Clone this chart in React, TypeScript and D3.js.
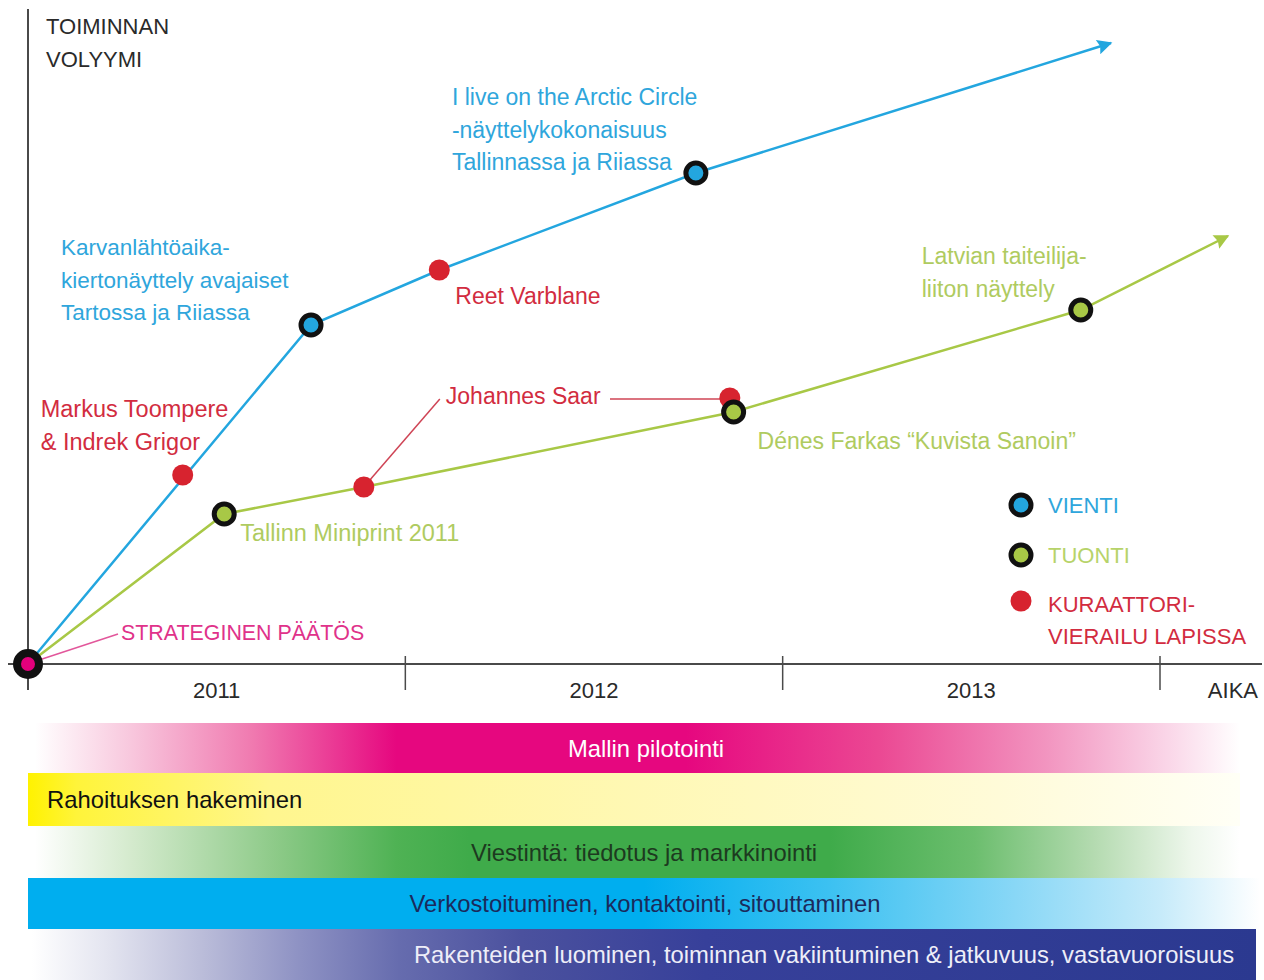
import React from "react";
import * as d3 from "d3";

// --- data ---
const yearBounds = [2011, 2012, 2013, 2014];
const yearLabels = ["2011", "2012", "2013"];

// VIENTI (export) line: time in fractional years, volume in arbitrary units
const vientiT = [2011, 2011.75, 2012.09, 2012.77, 2013.87];
const vientiV = [0, 339, 394, 491, 621];

// TUONTI (import) line
const tuontiT = [2011, 2011.52, 2011.89, 2012.87, 2013.79, 2014.18];
const tuontiV = [0, 150, 177, 252, 354, 428];

const vientiEvents = [
  { id: "karvan", t: 2011.75, v: 339, lines: ["Karvanlähtöaika-", "kiertonäyttely avajaiset", "Tartossa ja Riiassa"] },
  { id: "arctic", t: 2012.77, v: 491, lines: ["I live on the Arctic Circle", "-näyttelykokonaisuus", "Tallinnassa ja Riiassa"] },
];

const tuontiEvents = [
  { id: "miniprint", t: 2011.52, v: 150, lines: ["Tallinn Miniprint 2011"] },
  { id: "farkas", t: 2012.87, v: 252, lines: ["Dénes Farkas “Kuvista Sanoin”"] },
  { id: "latvia", t: 2013.79, v: 354, lines: ["Latvian taiteilija-", "liiton näyttely"] },
];

const visitEvents = [
  { id: "markus", t: 2011.41, v: 189, lines: ["Markus Toompere", "& Indrek Grigor"] },
  { id: "saar1", t: 2011.89, v: 177, lines: ["Johannes Saar"] },
  { id: "reet", t: 2012.09, v: 394, lines: ["Reet Varblane"] },
  { id: "saar2", t: 2012.86, v: 266, lines: [] as string[] },
];

const startEvent = { t: 2011, v: 0, label: "STRATEGINEN PÄÄTÖS" };

const legendItems = [
  { key: "vienti", lines: ["VIENTI"] },
  { key: "tuonti", lines: ["TUONTI"] },
  { key: "visit", lines: ["KURAATTORI-", "VIERAILU LAPISSA"] },
];

const phases = [
  "Mallin pilotointi",
  "Rahoituksen hakeminen",
  "Viestintä: tiedotus ja markkinointi",
  "Verkostoituminen, kontaktointi, sitouttaminen",
  "Rakenteiden luominen, toiminnan vakiintuminen & jatkuvuus, vastavuoroisuus",
];

// --- styles / layout ---
const W = 1264;
const H = 980;
const FONT = "'Liberation Sans', Arial, Helvetica, sans-serif";
const BLUE = "#23a6df";
const GREEN = "#a8c846";
const RED = "#d7232f";
const PINK = "#e4007c";
const AXIS = "#4a4a4a";
const TEXT_BLUE = "#2fa6dc";
const TEXT_GREEN = "#afcb60";
const TEXT_RED = "#d22c40";

const labelLayout: Record<string, { dx: number; dy: number; size?: number; color: string }> = {
  karvan: { dx: -250, dy: -78, size: 22.5, color: TEXT_BLUE },
  arctic: { dx: -244, dy: -76, color: TEXT_BLUE },
  miniprint: { dx: 16, dy: 19, size: 23.5, color: TEXT_GREEN },
  farkas: { dx: 24, dy: 29, color: TEXT_GREEN },
  latvia: { dx: -159, dy: -54, color: TEXT_GREEN },
  markus: { dx: -142, dy: -66, size: 23.5, color: TEXT_RED },
  saar1: { dx: 82, dy: -91, color: TEXT_RED },
  reet: { dx: 16, dy: 26, color: TEXT_RED },
};
const LINE_H = 32.5;

const bandLayout = [
  { x0: 35, x1: 1240, fill: "url(#g0)", color: "#ffffff", anchor: "middle", tx: 646 },
  { x0: 28, x1: 1240, fill: "url(#g1)", color: "#111111", anchor: "start", tx: 47 },
  { x0: 35, x1: 1240, fill: "url(#g2)", color: "#1d3a1f", anchor: "middle", tx: 644 },
  { x0: 28, x1: 1260, fill: "url(#g3)", color: "#1b2a5c", anchor: "middle", tx: 645 },
  { x0: 32, x1: 1256, fill: "url(#g4)", color: "#eeeef8", anchor: "middle", tx: 824 },
];
const bandTops = [723, 773, 826, 878, 929, 980];

const gradients: [number, string][][] = [
  [[0, "#ffffff"], [0.08, "#f8c7dd"], [0.18, "#f07ab0"], [0.3, "#e6077f"], [0.54, "#e6077f"], [0.7, "#eb4893"], [0.84, "#f295c0"], [0.94, "#fad6e8"], [1, "#ffffff"]],
  [[0, "#fff200"], [0.04, "#fff43a"], [0.2, "#fff68e"], [0.5, "#fff8b4"], [0.8, "#fffbd8"], [1, "#fffff6"]],
  [[0, "#ffffff"], [0.08, "#d4eacd"], [0.2, "#8dca88"], [0.3, "#4fb254"], [0.36, "#3fab4a"], [0.66, "#3fab4a"], [0.78, "#6cbe6e"], [0.88, "#b5dbb1"], [0.96, "#eef7ec"], [1, "#ffffff"]],
  [[0, "#00aeef"], [0.5, "#00aeef"], [0.65, "#3cc1f1"], [0.8, "#88d7f6"], [0.92, "#c7ebfa"], [1, "#ffffff"]],
  [[0, "#ffffff"], [0.06, "#e4e5f0"], [0.14, "#babcd9"], [0.22, "#8d91c3"], [0.3, "#666cae"], [0.4, "#4b519e"], [0.55, "#37409a"], [1, "#2b3990"]],
];

export default function App() {
  const x = d3.scaleLinear().domain([2011, 2014]).range([28, 1160]);
  const y = d3.scaleLinear().domain([0, 650]).range([664, 14]);

  const vientiPath = d3
    .line<number>()
    .x((t) => x(t))
    .y((_, i) => y(vientiV[i]))(vientiT);
  const tuontiPath = d3
    .line<number>()
    .x((t) => x(t))
    .y((_, i) => y(tuontiV[i]))(tuontiT);

  const x0 = x(startEvent.t);
  const y0 = y(startEvent.v);
  const saar1 = visitEvents[1];
  const saar2 = visitEvents[3];
  const s1x = x(saar1.t);
  const s1y = y(saar1.v);
  const s2x = x(saar2.t);
  const s2y = y(saar2.v);

  const renderLabel = (id: string, px: number, py: number, lines: string[]) => {
    const l = labelLayout[id];
    if (!l || lines.length === 0) return null;
    return (
      <text
        key={"lab-" + id}
        x={px + l.dx}
        y={py + l.dy}
        fontFamily={FONT}
        fontSize={l.size ?? 23}
        fill={l.color}
        dominantBaseline="central"
      >
        {lines.map((s, i) => (
          <tspan key={i} x={px + l.dx} dy={i === 0 ? 0 : LINE_H}>
            {s}
          </tspan>
        ))}
      </text>
    );
  };

  const legendX = 1021;
  const legendY = [505, 555, 601];

  return (
    <div style={{ position: "absolute", left: 0, top: 0 }}>
      <svg width={W} height={H} style={{ display: "block", background: "#fff" }}>
        <defs>
          {gradients.map((stops, gi) => (
            <linearGradient key={gi} id={"g" + gi} x1="0" x2="1" y1="0" y2="0">
              {stops.map(([o, c], si) => (
                <stop key={si} offset={o} stopColor={c} />
              ))}
            </linearGradient>
          ))}
          <marker id="arrowBlue" viewBox="0 0 10 10" refX="9" refY="5" markerWidth="7.5" markerHeight="6" markerUnits="strokeWidth" orient="auto">
            <path d="M0,0 L10,5 L0,10 L1.5,5 z" fill={BLUE} />
          </marker>
          <marker id="arrowGreen" viewBox="0 0 10 10" refX="9" refY="5" markerWidth="7.5" markerHeight="6" markerUnits="strokeWidth" orient="auto">
            <path d="M0,0 L10,5 L0,10 L1.5,5 z" fill={GREEN} />
          </marker>
        </defs>

        {/* phase bands */}
        {phases.map((p, i) => {
          const b = bandLayout[i];
          const top = bandTops[i];
          const h = bandTops[i + 1] - top;
          return (
            <g key={"band" + i}>
              <rect x={b.x0} y={top} width={b.x1 - b.x0} height={h} fill={b.fill} />
              <text
                x={b.tx}
                y={top + h / 2}
                textAnchor={b.anchor as any}
                dominantBaseline="central"
                fontFamily={FONT}
                fontSize={23.8}
                fill={b.color}
              >
                {p}
              </text>
            </g>
          );
        })}

        {/* axes */}
        <line x1={x(2011)} x2={x(2011)} y1={9} y2={690} stroke={AXIS} strokeWidth={2} />
        <line x1={8} x2={1262} y1={y(0)} y2={y(0)} stroke={AXIS} strokeWidth={2} />
        {yearBounds.slice(1).map((t) => (
          <line key={"tick" + t} x1={x(t)} x2={x(t)} y1={y(0) - 8} y2={y(0) + 26} stroke={AXIS} strokeWidth={1.5} />
        ))}
        {yearLabels.map((s, i) => (
          <text
            key={"yl" + s}
            x={x(yearBounds[i] + 0.5)}
            y={690}
            textAnchor="middle"
            dominantBaseline="central"
            fontFamily={FONT}
            fontSize={22}
            fill="#2a2a2a"
          >
            {s}
          </text>
        ))}
        <text x={1258} y={690} textAnchor="end" dominantBaseline="central" fontFamily={FONT} fontSize={22} fill="#2a2a2a">
          AIKA
        </text>
        <text fontFamily={FONT} fontSize={22} fill="#2a2a2a" dominantBaseline="central">
          <tspan x={46} y={26}>TOIMINNAN</tspan>
          <tspan x={46} y={59}>VOLYYMI</tspan>
        </text>

        {/* leader lines */}
        <line x1={x0 + 2} y1={y0 - 1} x2={x0 + 90} y2={y0 - 30} stroke="#e2579b" strokeWidth={1.5} />
        <line x1={s1x} y1={s1y} x2={s1x + 76} y2={s1y - 88} stroke="#cf4455" strokeWidth={1.5} />
        <line x1={610} y1={s2y + 1} x2={s2x} y2={s2y + 1} stroke="#cf4455" strokeWidth={1.5} />

        {/* series lines */}
        <path d={vientiPath ?? ""} fill="none" stroke={BLUE} strokeWidth={2.5} markerEnd="url(#arrowBlue)" />
        <path d={tuontiPath ?? ""} fill="none" stroke={GREEN} strokeWidth={2.5} markerEnd="url(#arrowGreen)" />

        {/* curator visits */}
        {visitEvents.map((e) => (
          <circle key={"v" + e.id} cx={x(e.t)} cy={y(e.v)} r={10.5} fill={RED} />
        ))}
        {/* milestones */}
        {vientiEvents.map((e) => (
          <circle key={"b" + e.id} cx={x(e.t)} cy={y(e.v)} r={10} fill={BLUE} stroke="#111" strokeWidth={5} />
        ))}
        {tuontiEvents.map((e) => (
          <circle key={"g" + e.id} cx={x(e.t)} cy={y(e.v)} r={10} fill={GREEN} stroke="#111" strokeWidth={5} />
        ))}
        <circle cx={x0} cy={y0} r={11} fill={PINK} stroke="#111" strokeWidth={8} />

        {/* labels */}
        {vientiEvents.map((e) => renderLabel(e.id, x(e.t), y(e.v), e.lines))}
        {tuontiEvents.map((e) => renderLabel(e.id, x(e.t), y(e.v), e.lines))}
        {visitEvents.map((e) => renderLabel(e.id, x(e.t), y(e.v), e.lines))}
        <text x={x0 + 93} y={y0 - 31} dominantBaseline="central" fontFamily={FONT} fontSize={21.4} fill="#e0328a">
          {startEvent.label}
        </text>

        {/* legend */}
        {legendItems.map((it, i) => {
          const cy = legendY[i];
          const fill = it.key === "vienti" ? BLUE : it.key === "tuonti" ? GREEN : RED;
          const tc = it.key === "vienti" ? TEXT_BLUE : it.key === "tuonti" ? "#b7d36a" : TEXT_RED;
          return (
            <g key={"lg" + it.key}>
              {it.key === "visit" ? (
                <circle cx={legendX} cy={cy} r={10.5} fill={fill} />
              ) : (
                <circle cx={legendX} cy={cy} r={10} fill={fill} stroke="#111" strokeWidth={5} />
              )}
              <text fontFamily={FONT} fontSize={22} fill={tc} dominantBaseline="central">
                {it.lines.map((s, j) => (
                  <tspan key={j} x={1048} y={cy + (it.key === "visit" ? 3 : 0) + j * 32}>
                    {s}
                  </tspan>
                ))}
              </text>
            </g>
          );
        })}
      </svg>
    </div>
  );
}
